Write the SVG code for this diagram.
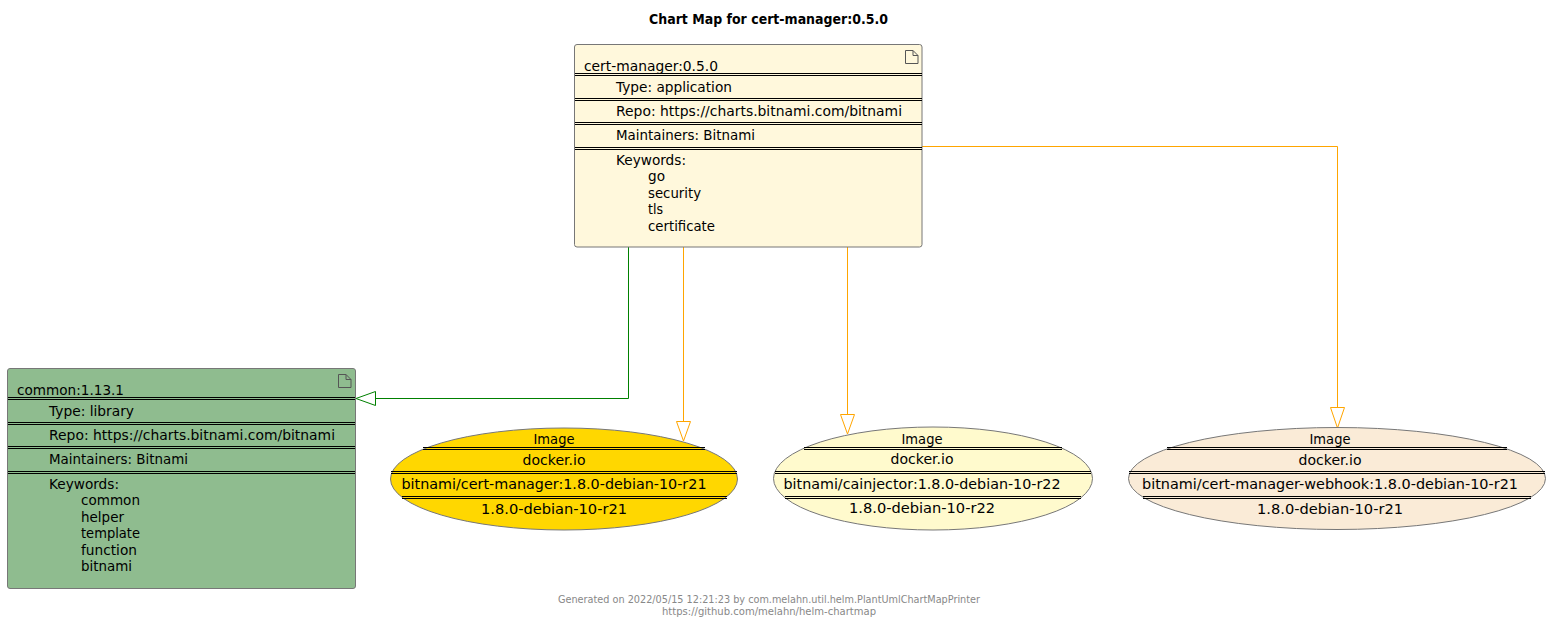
<svg xmlns="http://www.w3.org/2000/svg" width="1550" height="623" viewBox="0 0 1550 623">
<style>
text{font-family:"DejaVu Sans",sans-serif;font-size:14px;fill:#000}
.c{text-anchor:middle}
.box{stroke:#777;stroke-width:1}
.sep{stroke:#000;stroke-width:1;fill:none}
.ic{fill:none;stroke:#555;stroke-width:1}
.e{stroke:#777;stroke-width:1}
.t{font-weight:bold;font-size:13.5px}
.f{font-size:10px;fill:#888}
.or{stroke:#ffa500;stroke-width:1;fill:none}
</style>
<rect width="1550" height="623" fill="#fff"/>
<text class="c t" x="768.5" y="24" textLength="239" lengthAdjust="spacingAndGlyphs">Chart Map for cert-manager:0.5.0</text>
<g id="connectors">
<path d="M628.500 247V398.500H375.500" fill="none" stroke="#008000"/>
<path d="M375.500 391.500L356 398.500L375.500 405.500Z" fill="none" stroke="#008000"/>
<path class="or" d="M683.500 247V421.500"/>
<path class="or" d="M676.500 421.500H690.500L683.500 441Z"/>
<path class="or" d="M847.500 247V414.500"/>
<path class="or" d="M840.500 414.500H854.500L847.500 434Z"/>
<path class="or" d="M922 146.500H1337.500V407.500"/>
<path class="or" d="M1330.500 407.500H1344.500L1337.500 428Z"/>
</g>
<g id="chart-cert-manager">
<rect class="box" x="574.500" y="44.500" width="347.500" height="202.500" rx="2.500" fill="#fff8dc"/>
<path class="ic" d="M905.500 50.500V63.500H918V55.500L913 50.500ZM913 50.500V55.500H918"/>
<path class="sep" d="M575 73.500H922M575 75.500H922M575 98.500H922M575 100.500H922M575 122.500H922M575 124.500H922M575 147.500H922M575 149.500H922"/>
<text x="584" y="71" textLength="134" lengthAdjust="spacingAndGlyphs">cert-manager:0.5.0</text>
<text x="616" y="92" textLength="116" lengthAdjust="spacingAndGlyphs">Type: application</text>
<text x="616" y="116" textLength="286" lengthAdjust="spacingAndGlyphs">Repo: https://charts.bitnami.com/bitnami</text>
<text x="616" y="140" textLength="139" lengthAdjust="spacingAndGlyphs">Maintainers: Bitnami</text>
<text x="616" y="165" textLength="70" lengthAdjust="spacingAndGlyphs">Keywords:</text>
<text x="648" y="181" textLength="17" lengthAdjust="spacingAndGlyphs">go</text>
<text x="648" y="198" textLength="53" lengthAdjust="spacingAndGlyphs">security</text>
<text x="648" y="214" textLength="15" lengthAdjust="spacingAndGlyphs">tls</text>
<text x="648" y="231" textLength="67" lengthAdjust="spacingAndGlyphs">certificate</text>
</g>
<g id="chart-common">
<rect class="box" x="7.500" y="368.500" width="348" height="220" rx="2.500" fill="#8fbc8f"/>
<path class="ic" d="M338.500 374.500V387.500H351V379.500L346 374.500ZM346 374.500V379.500H351"/>
<path class="sep" d="M8 397.500H355M8 399.500H355M8 422.500H355M8 424.500H355M8 446.500H355M8 448.500H355M8 471.500H355M8 473.500H355"/>
<text x="17" y="395" textLength="107" lengthAdjust="spacingAndGlyphs">common:1.13.1</text>
<text x="49" y="416" textLength="85" lengthAdjust="spacingAndGlyphs">Type: library</text>
<text x="49" y="440" textLength="286" lengthAdjust="spacingAndGlyphs">Repo: https://charts.bitnami.com/bitnami</text>
<text x="49" y="464" textLength="139" lengthAdjust="spacingAndGlyphs">Maintainers: Bitnami</text>
<text x="49" y="489" textLength="70" lengthAdjust="spacingAndGlyphs">Keywords:</text>
<text x="81" y="505" textLength="59" lengthAdjust="spacingAndGlyphs">common</text>
<text x="81" y="522" textLength="43" lengthAdjust="spacingAndGlyphs">helper</text>
<text x="81" y="538" textLength="59" lengthAdjust="spacingAndGlyphs">template</text>
<text x="81" y="555" textLength="56" lengthAdjust="spacingAndGlyphs">function</text>
<text x="81" y="571" textLength="51" lengthAdjust="spacingAndGlyphs">bitnami</text>
</g>
<g id="image-cert-manager">
<ellipse class="e" cx="564" cy="479" rx="173.500" ry="51" fill="#ffd700"/>
<path class="sep" d="M423 447.500H705M423 449.500H705M391 471.500H737M391 473.500H737M402 496.500H727M402 498.500H727"/>
<text class="c" x="554" y="444" textLength="41" lengthAdjust="spacingAndGlyphs">Image</text>
<text class="c" x="554" y="465" textLength="63" lengthAdjust="spacingAndGlyphs">docker.io</text>
<text class="c" x="554" y="489" textLength="305" lengthAdjust="spacingAndGlyphs">bitnami/cert-manager:1.8.0-debian-10-r21</text>
<text class="c" x="554" y="514" textLength="146" lengthAdjust="spacingAndGlyphs">1.8.0-debian-10-r21</text>
</g>
<g id="image-cainjector">
<ellipse class="e" cx="933" cy="478.500" rx="159.500" ry="51.500" fill="#fffacd"/>
<path class="sep" d="M804 447.500H1062M804 449.500H1062M775 471.500H1091M775 473.500H1091M785 496.500H1081M785 498.500H1081"/>
<text class="c" x="922" y="444" textLength="41" lengthAdjust="spacingAndGlyphs">Image</text>
<text class="c" x="922" y="464" textLength="63" lengthAdjust="spacingAndGlyphs">docker.io</text>
<text class="c" x="922" y="489" textLength="277" lengthAdjust="spacingAndGlyphs">bitnami/cainjector:1.8.0-debian-10-r22</text>
<text class="c" x="922" y="513" textLength="146" lengthAdjust="spacingAndGlyphs">1.8.0-debian-10-r22</text>
</g>
<g id="image-webhook">
<ellipse class="e" cx="1337" cy="478.500" rx="208.500" ry="51" fill="#faebd7"/>
<path class="sep" d="M1167 447.500H1507M1167 449.500H1507M1129 471.500H1545M1129 473.500H1545M1143 496.500H1531M1143 498.500H1531"/>
<text class="c" x="1330" y="444" textLength="41" lengthAdjust="spacingAndGlyphs">Image</text>
<text class="c" x="1330" y="465" textLength="63" lengthAdjust="spacingAndGlyphs">docker.io</text>
<text class="c" x="1330" y="489" textLength="376" lengthAdjust="spacingAndGlyphs">bitnami/cert-manager-webhook:1.8.0-debian-10-r21</text>
<text class="c" x="1330" y="514" textLength="146" lengthAdjust="spacingAndGlyphs">1.8.0-debian-10-r21</text>
</g>
<text class="c f" x="769" y="603" textLength="422" lengthAdjust="spacingAndGlyphs">Generated on 2022/05/15 12:21:23 by com.melahn.util.helm.PlantUmlChartMapPrinter</text>
<text class="c f" x="769" y="615" textLength="214" lengthAdjust="spacingAndGlyphs">https://github.com/melahn/helm-chartmap</text>
</svg>
